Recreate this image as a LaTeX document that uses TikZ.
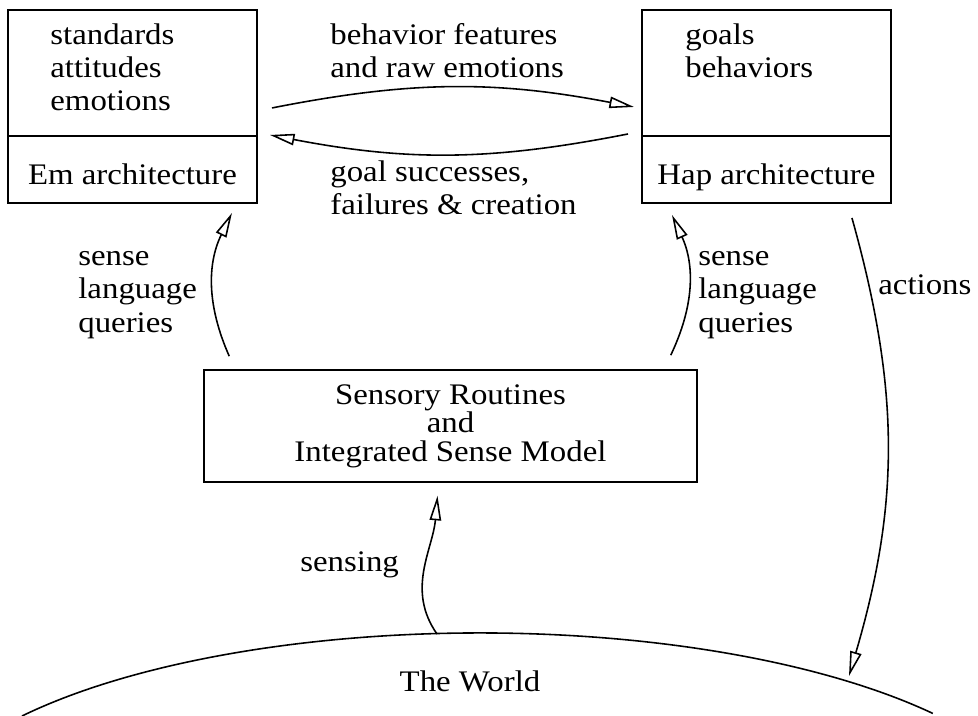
\documentclass[tikz,border=0pt]{standalone}
\usepackage{fontspec}
\setmainfont{Liberation Serif}[FakeStretch=1.1]
\usepackage{tikz}
\usetikzlibrary{arrows.meta, positioning}
\tikzstyle{mind} = [rectangle, draw=black, line width=0.9pt, minimum width=4.98cm,
minimum height=2.52cm, outer sep=0pt, inner sep=0pt]
\tikzstyle{arch} = [rectangle, draw=black, line width=0.9pt, minimum width=4.98cm,
minimum height=1.34cm, outer sep=0pt, inner sep=0pt, text height=17.5pt, text depth=0pt]
\tikzstyle{routine} = [rectangle, draw=black, line width=0.9pt, minimum width=9.86cm,
minimum height=2.24cm, align=center, font=\fontsize{17}{16.3}\selectfont]
\tikzstyle{lbl} = [inner sep=0pt, align=left, anchor=north west]
\tikzstyle{arrow} = [line width=0.9pt, -{Triangle[open, length=14pt, width=6.5pt]}]

\begin{document}
\begin{tikzpicture}[x=0.02cm, y=0.02cm, font=\fontsize{17}{19}\selectfont]
    \useasboundingbox (0,0) rectangle (978,716);
    % \draw[help lines, step=50] (0,0) grid (978,716);
    \node (em) [mind, anchor=north west] at (8,706) {}; \node (emarch) [arch,
      below=0pt of em] {Em architecture}; \node (hap) [mind, anchor=north west]
    at (642,706) {}; \node (haparch) [arch, below=0pt of hap] {Hap
      architecture}; \node (sense) [routine] at (450.5,290) {Sensory
      Routines\\and\\Integrated Sense Model};

    \node (emlist) [lbl] at (50,693) {standards\\attitudes\\emotions};
    \node (haplist) [lbl] at (685,693) {goals\\behaviors};

    % the world is an arc, the arrows meet it at two points
    \draw [line width=0.9pt] (22,0) arc [start angle=143.5, end angle=37.4,
      x radius=11.4cm, y radius=4.1cm];
    \node (world) [inner sep=0pt, anchor=base] at (470,24) {The World};
    \coordinate (wsense) at (437,82);
    \coordinate (wact) at (849,40);

    \draw [arrow] ([shift={(15,28)}]em.south east) to[bend left=11]
    ([shift={(-8,29)}]hap.south west); \draw [arrow] ([shift={(-14,2)}]hap.south
    west) to[bend left=11] ([shift={(13,1)}]em.south east);
    \draw [arrow] ([shift={(26,13)}]sense.north west) to[bend left=25]
    ([shift={(-25,-10)}]emarch.south east); \draw [arrow]
    ([shift={(-27,14)}]sense.north east) to[bend right=25]
    ([shift={(30,-12)}]haparch.south west); \draw [arrow]
    ([shift={(-39,-15)}]haparch.south east) to[bend left=16] (wact);
    \draw [arrow] (wsense) to[out=125, in=-95] ([shift={(-13,-13)}]sense.south);

    \node (featlbl) [lbl] at (330,693) {behavior features\\and raw emotions};
    \node (goallbl) [lbl] at (330,556) {goal successes,\\failures \& creation};
    \node (emquery) [lbl] at (78,465) {sense\\language\\queries};
    \node (hapquery) [lbl] at (698,465) {sense\\language\\queries};
    \node (actlbl) [inner sep=0pt, anchor=base west] at (878,421) {actions};
    \node (senslbl) [inner sep=0pt, anchor=base west] at (300,144) {sensing};

  \end{tikzpicture}
\end{document}
